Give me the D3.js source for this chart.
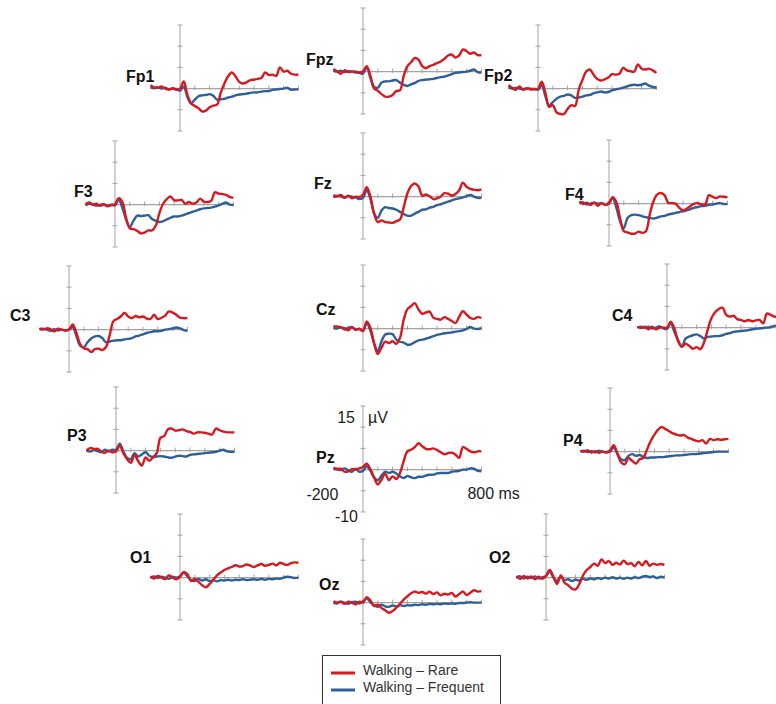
<!DOCTYPE html>
<html>
<head>
<meta charset="utf-8">
<script src="https://cdn.jsdelivr.net/npm/d3@7"></script>
<style>
  html, body { margin: 0; padding: 0; background: #fff; }
  svg { display: block; }
</style>
</head>
<body>
<svg id="chart" width="776" height="704"></svg>
<script>
// Sample times (ms) shared by every waveform
const times = [-200,-175,-150,-125,-100,-75,-50,-25,0,25,50,75,100,125,150,175,200,225,250,275,300,
  325,350,375,400,425,450,475,500,525,550,575,600,625,650,675,700,725,750,775,800];

const yTicks = [-10, -5, 0, 5, 10, 15];
const xTicks = [100, 200, 300, 400, 500, 600, 700, 800];

const electrodes = ["Fp1","Fpz","Fp2","F3","Fz","F4","C3","Cz","C4","P3","Pz","P4","O1","Oz","O2"];
const conditions = ["Walking – Rare", "Walking – Frequent"];

// Grand-average amplitudes (µV), Walking – Rare
const rareFp1 = [0.8,0.3,0.2,0.5,0,-0.2,0.1,-0.3,0,1.7,-1.5,-3.5,-4.1,-4.6,-5.4,-5.2,-4.4,-4.0,-3.8,-1.0,1.2,2.9,3.8,2.9,1.6,1.2,1.5,2.0,2.1,2.3,2.5,3.8,3.2,3.3,3.0,5.0,4.0,4.2,3.5,3.3,3.3];
const rareFpz = [0.6,0,-0.5,0.3,-0.1,0,0,-0.2,0,1.3,-1.0,-4.0,-4.5,-5.3,-5.9,-5.9,-5.5,-4.6,-4.4,-1.0,1.3,2.2,3.2,2.8,1.3,0.8,1.3,1.6,2.0,2.4,3.0,3.8,4.0,3.3,3.8,5.2,4.8,4.2,4.5,3.9,3.9];
const rareFp2 = [0.8,0.2,-0.3,0.5,-0.3,0,0,-0.2,0,1.6,-1.0,-4.3,-3.9,-5.6,-6.0,-6.0,-4.8,-3.9,-4.1,-0.3,2.0,4.0,4.5,3.3,2.3,1.9,2.2,2.6,3.4,3.3,3.5,4.9,4.3,4.1,4.0,5.7,4.7,4.5,4.7,4.3,3.7];
const rareF3 = [0,0.5,0,0.2,-0.3,0,-0.4,-0.1,0.1,1.5,0.6,-3.2,-5.6,-5.8,-6.2,-6.8,-6.6,-6.1,-6.1,-5.0,-2.0,0.2,1.3,1.9,1.0,1.0,1.1,0.2,0.6,0.2,0.5,1.4,0.7,0.6,0.9,2.9,2.6,2.5,2.3,1.8,1.6];
const rareFz = [0.4,0,0.4,-0.3,0.2,-0.4,0,-0.1,0.4,2.2,0,-4.0,-6.0,-5.6,-6.0,-6.1,-6.2,-5.8,-5.4,-2.5,0.8,2.5,3.1,2.4,0.2,0.5,0.1,-0.6,-0.4,0,0.8,0.7,0.2,0.6,1.5,3.3,2.3,1.8,1.6,1.5,1.7];
const rareF4 = [0.5,-0.1,0.2,-0.3,0.2,-0.5,0.1,-0.3,0.2,1.5,0.3,-3.5,-6.5,-6.8,-7.1,-7.1,-6.6,-6.9,-6.5,-2.6,0.5,2.1,2.5,2.0,0.2,0.1,0,-1.0,-1.6,-1.2,-0.6,0,0.1,-0.2,-0.2,2.0,1.6,1.3,1.7,1.6,1.5];
const rareC3 = [0.3,0,0.3,0.1,-0.4,0.2,0,-0.2,0,1.2,-0.8,-3.4,-4.4,-4.6,-5.3,-4.6,-4.5,-4.8,-4.1,-1.3,2.0,2.5,3.1,3.9,3.1,2.7,3.2,2.9,3.1,2.6,2.5,3.5,2.5,2.8,3.3,4.3,4.0,3.5,2.8,2.7,2.7];
const rareCz = [0.5,0.5,0.3,0.1,-0.4,0.3,-0.2,0,-0.6,1.7,0.2,-3.5,-6.0,-4.5,-3.1,-3.4,-3.0,-3.6,-2.2,2.1,4.6,5.3,6.0,4.5,3.5,3.8,4.0,2.6,2.3,2.1,2.7,2.3,1.8,1.3,2.8,4.1,3.3,2.5,2.3,2.7,2.5];
const rareC4 = [0.2,-0.1,0.2,-0.4,0.2,-0.4,0,0,0,1.4,-0.2,-3.2,-4.5,-3.8,-4.3,-5.0,-4.6,-5.1,-3.5,-0.5,2.2,3.6,4.4,4.7,3.0,2.6,2.8,2.0,1.8,1.5,1.8,1.5,1.7,1.8,1.0,3.3,3.0,2.6,2.5,2.4,2.5];
const rareP3 = [0,0.6,0.4,0.4,-0.2,-0.5,0,-0.4,-0.2,1.2,-0.6,-2.0,-2.9,-1.0,-2.5,-3.5,-1.6,-2.4,-1.6,-0.6,3.0,3.4,5.0,5.2,4.7,4.8,5.0,4.6,4.4,4.0,4.3,4.3,4.2,4.0,3.8,5.2,4.8,4.5,4.3,4.3,4.3];
const rarePz = [0.4,0.2,0.2,-0.5,-0.4,0.1,0,0.3,0.6,1.4,0.1,-1.8,-3.5,-2.4,-1.0,-2.5,-1.6,-2.2,-0.8,2.0,4.3,4.7,5.3,6.2,5.5,4.9,4.8,5.0,4.6,4.1,3.6,3.9,4.0,3.5,2.8,5.3,4.9,4.3,4.1,4.3,4.3];
const rareP4 = [0.2,0,0.3,-0.2,0.1,-0.3,0,-0.2,0.3,1.5,-0.5,-2.5,-3.0,-1.5,-2.2,-2.8,-1.8,-1.5,0.5,2.5,4.0,5.2,5.8,5.3,4.8,4.3,4.0,3.8,3.9,3.3,3.0,2.6,2.4,2.7,1.9,3.0,2.7,2.9,2.8,2.9,3.0];
const rareO1 = [0.2,-0.2,0.4,0,-0.3,0.5,0,-0.4,0.2,1.3,0.8,-0.8,-0.3,-1.0,-1.8,-2.3,-1.5,-0.5,0.5,1.2,1.8,2.2,2.5,2.9,2.6,2.7,3.1,2.8,2.5,2.9,3.2,2.8,3.0,3.3,2.9,3.5,3.2,3.0,3.4,3.6,3.5];
const rareOz = [0.3,0,0.2,-0.3,0.2,0,-0.4,0.2,0,1.3,0.5,-0.8,-0.5,-1.3,-1.8,-2.4,-2.0,-1.2,-0.3,0.7,1.5,2.2,2.6,2.3,2.5,2.1,2.6,2.0,2.4,1.7,2.1,1.9,2.3,1.4,2.0,2.6,1.8,2.3,2.9,2.6,2.7];
const rareO2 = [0.3,-0.3,0.4,-0.2,0.3,-0.4,0.2,-0.3,0.4,1.8,0.2,-1.5,0.5,-1.2,-1.8,-2.6,-2.8,-1.5,0.5,1.8,2.5,3.3,2.8,4.3,3.4,3.9,3.0,3.5,3.1,4.0,3.2,3.4,2.7,3.7,2.9,3.9,2.8,3.3,3.0,3.2,3.0];

// Grand-average amplitudes (µV), Walking – Frequent
const freqFp1 = [0.3,0.1,0.3,0,0.2,-0.2,0,-0.1,-0.5,0.5,-2.0,-3.5,-2.6,-1.8,-1.6,-1.5,-1.3,-1.7,-2.6,-2.5,-2.4,-2.1,-1.9,-1.6,-1.4,-1.3,-1.2,-1.0,-0.9,-0.9,-0.7,-0.6,-0.6,-0.3,-0.2,-0.1,0,0.2,-0.3,-0.2,-0.2];
const freqFpz = [0.2,0,0.2,-0.1,0.1,0,-0.2,-0.3,-0.5,1.0,-1.5,-3.6,-3.8,-2.6,-2.3,-2.3,-2.1,-2.0,-2.6,-3.1,-3.4,-3.0,-2.7,-2.2,-2.0,-1.9,-1.8,-1.7,-1.5,-1.3,-1.2,-0.9,-0.6,-0.3,-0.2,-0.1,0,0.2,0.5,-0.1,-0.2];
const freqFp2 = [0.3,0,0.2,0,-0.1,0.1,-0.2,0,-0.3,0.8,-1.8,-4.0,-3.2,-2.4,-1.9,-1.7,-1.4,-1.6,-2.2,-2.1,-1.9,-1.6,-1.5,-1.1,-0.9,-0.7,-0.9,-0.8,-0.4,-0.2,0,0.2,0.5,0.8,0.9,0.8,0.9,1.2,0.7,0.4,0.2];
const freqF3 = [-0.2,0.2,0,-0.3,0,0.1,-0.2,0,-0.2,1.2,-0.8,-3.5,-5.3,-3.8,-2.6,-2.7,-2.6,-2.5,-3.4,-3.8,-4.1,-3.9,-3.5,-3.1,-2.8,-2.8,-2.6,-2.3,-2.0,-1.7,-1.4,-1.1,-0.9,-0.8,-0.7,-0.5,-0.2,0.2,0.5,0,-0.1];
const freqFz = [-0.2,0.2,0,-0.2,0.1,0,-0.2,-0.6,-0.3,1.5,-0.5,-4.0,-5.0,-3.3,-2.5,-2.7,-2.8,-3.1,-3.6,-4.1,-4.5,-4.5,-4.0,-3.6,-3.1,-3.0,-2.6,-2.4,-2.0,-1.8,-1.5,-1.2,-0.9,-0.6,-0.4,-0.2,0.1,0.4,0,-0.3,-0.3];
const freqF4 = [0,0.3,-0.2,0,0.2,0,0.1,-0.3,0,1.3,-1.0,-4.2,-5.8,-3.4,-2.7,-2.6,-2.7,-3.0,-3.2,-3.4,-3.5,-3.3,-3.0,-2.9,-2.6,-2.4,-2.2,-2.0,-1.8,-1.6,-1.3,-1.0,-0.8,-0.6,-0.5,-0.3,-0.2,0,0.1,-0.1,-0.1];
const freqC3 = [0,0.2,0,-0.3,0.1,-0.2,0,-0.2,0,0.6,-1.5,-3.8,-4.2,-3.0,-2.1,-1.6,-1.5,-2.0,-3.0,-2.8,-2.6,-2.5,-2.5,-2.3,-2.2,-2.0,-1.6,-1.4,-1.1,-0.8,-0.6,-0.4,-0.4,-0.3,0,0.1,0.3,0.5,0.3,-0.1,-0.3];
const freqCz = [0.2,0,0.3,-0.2,0.2,0.4,-0.3,-0.1,-0.5,1.3,-0.5,-3.5,-5.3,-3.0,-1.4,-1.2,-1.3,-2.6,-3.1,-3.3,-3.8,-3.7,-3.2,-2.8,-2.6,-2.4,-2.1,-1.8,-1.5,-1.3,-1.1,-1.0,-0.9,-0.7,-0.6,-0.4,-0.1,0.4,0,-0.1,0.1];
const freqC4 = [0,0.2,-0.1,0.2,-0.2,0,0.3,-0.2,-0.3,1.0,-1.0,-3.0,-4.5,-2.6,-2.1,-1.8,-1.6,-2.0,-2.6,-2.2,-2.1,-2.0,-2.0,-1.8,-1.5,-1.3,-1.0,-0.9,-0.8,-0.7,-0.6,-0.4,-0.3,-0.2,-0.1,0,0.1,0.4,0.5,0.5,0.5];
const freqP3 = [0,-0.2,0.1,-0.1,-0.4,0.2,-0.2,0.2,0.2,1.6,-0.2,-1.7,-2.0,-0.6,-1.4,-0.9,-0.4,-1.2,-1.5,-1.4,-1.3,-1.4,-1.6,-1.7,-1.4,-1.2,-1.3,-1.4,-1.0,-0.9,-0.8,-0.7,-0.6,-0.5,-0.4,-0.3,0,0.2,-0.2,-0.3,-0.3];
const freqPz = [0.1,0,-0.1,0.3,-0.2,-0.5,0.2,-0.5,-0.3,0.8,-0.3,-1.9,-2.5,-1.4,-0.5,-0.8,-0.5,-0.9,-1.6,-2.0,-1.5,-1.8,-2.0,-1.7,-1.7,-1.4,-1.2,-1.2,-0.9,-0.8,-0.8,-0.8,-0.5,-0.4,-0.3,0,0,0.3,0.2,-0.3,-0.4];
const freqP4 = [0,0.2,-0.1,0.1,-0.2,0.2,0,-0.1,0,1.0,-0.5,-1.8,-2.0,-1.0,-0.6,-1.0,-0.8,-1.2,-1.5,-1.4,-1.4,-1.3,-1.3,-1.2,-1.1,-1.0,-0.9,-0.9,-0.8,-0.7,-0.6,-0.6,-0.5,-0.4,-0.3,-0.2,-0.1,0,0,0,0];
const freqO1 = [0,0.3,-0.1,0.2,0,-0.3,0.2,0,0.3,1.2,0.3,-0.6,-0.8,-0.3,-0.7,-0.4,-0.8,-0.6,-0.9,-0.6,-0.7,-0.5,-0.7,-0.5,-0.6,-0.4,-0.6,-0.5,-0.4,-0.5,-0.3,-0.5,-0.3,-0.4,-0.2,-0.3,0,0.2,0.1,-0.1,0];
const freqOz = [0,-0.2,0.2,0,-0.3,0.1,0.2,-0.2,0.3,1.0,0.1,-0.7,-1.0,-0.5,-0.9,-1.0,-0.7,-0.9,-0.6,-0.8,-0.6,-0.7,-0.5,-0.6,-0.4,-0.5,-0.3,-0.4,-0.3,-0.4,-0.2,-0.3,-0.2,-0.3,-0.1,-0.1,0,0.1,0,0,0];
const freqO2 = [0,0.3,-0.2,0.2,-0.1,0.3,-0.2,0.1,0.4,1.5,0,-0.8,0.3,-0.6,-0.4,-0.8,-0.5,-0.7,-0.3,-0.5,-0.2,-0.4,-0.1,-0.3,0,-0.2,0.1,-0.2,0,-0.3,0,-0.2,0.1,-0.1,0.2,0.4,0.1,0.3,-0.1,0.2,0];

const rareSeries = [rareFp1,rareFpz,rareFp2,rareF3,rareFz,rareF4,rareC3,rareCz,rareC4,rareP3,rarePz,rareP4,rareO1,rareOz,rareO2];
const freqSeries = [freqFp1,freqFpz,freqFp2,freqF3,freqFz,freqF4,freqC3,freqCz,freqC4,freqP3,freqPz,freqP4,freqO1,freqOz,freqO2];

// Scalp layout: y-axis position, top of the µV range, and label anchor for each electrode
const layout = {
  Fp1: { ax: 180, top: 25,  lx: 126, ly: 82 },
  Fpz: { ax: 363, top: 8,   lx: 306, ly: 65 },
  Fp2: { ax: 538, top: 25,  lx: 484, ly: 81 },
  F3:  { ax: 115, top: 141, lx: 74,  ly: 197 },
  Fz:  { ax: 363, top: 133, lx: 314, ly: 189 },
  F4:  { ax: 609, top: 140, lx: 565, ly: 200 },
  C3:  { ax: 69,  top: 266, lx: 10,  ly: 321 },
  Cz:  { ax: 363, top: 265, lx: 316, ly: 315 },
  C4:  { ax: 667, top: 264, lx: 612, ly: 321 },
  P3:  { ax: 116, top: 387, lx: 67,  ly: 441 },
  Pz:  { ax: 363, top: 406, lx: 316, ly: 463 },
  P4:  { ax: 610, top: 388, lx: 563, ly: 446 },
  O1:  { ax: 180, top: 514, lx: 130, ly: 563 },
  Oz:  { ax: 363, top: 539, lx: 319, ly: 590 },
  O2:  { ax: 546, top: 514, lx: 489, ly: 563 }
};

const colors = ["#d7191f", "#2f5f98"];
const axisColor = "#a3a3a3";
const PX_PER_MS = 0.148;
const PANEL_H = 106;

const svg = d3.select("#chart");

electrodes.forEach((name, i) => {
  const L = layout[name];
  const x = d3.scaleLinear().domain([-200, 800]).range([L.ax - 200 * PX_PER_MS, L.ax + 800 * PX_PER_MS]);
  const y = d3.scaleLinear().domain([-10, 15]).range([L.top + PANEL_H, L.top]);
  const g = svg.append("g").attr("class", "panel");

  // y axis with µV ticks
  g.append("line")
    .attr("x1", x(0)).attr("x2", x(0))
    .attr("y1", y(-10)).attr("y2", y(15))
    .attr("stroke", axisColor).attr("stroke-width", 1);
  g.selectAll(".yt").data(yTicks).enter().append("line")
    .attr("x1", x(0) - 2.5).attr("x2", x(0) + 2.5)
    .attr("y1", d => y(d)).attr("y2", d => y(d))
    .attr("stroke", axisColor).attr("stroke-width", 1);

  // time axis from stimulus onset
  g.append("line")
    .attr("x1", x(0)).attr("x2", x(800))
    .attr("y1", y(0)).attr("y2", y(0))
    .attr("stroke", axisColor).attr("stroke-width", 1.2);
  g.selectAll(".xt").data(xTicks).enter().append("line")
    .attr("x1", d => x(d)).attr("x2", d => x(d))
    .attr("y1", y(0) - 3).attr("y2", y(0) + 1.5)
    .attr("stroke", axisColor).attr("stroke-width", 1);

  const line = d3.line()
    .x((d, k) => x(times[k]))
    .y(d => y(d))
    .curve(d3.curveCatmullRom.alpha(0.5));

  g.append("path").datum(freqSeries[i])
    .attr("d", line).attr("fill", "none")
    .attr("stroke", colors[1]).attr("stroke-width", 2.4)
    .attr("stroke-linejoin", "round");
  g.append("path").datum(rareSeries[i])
    .attr("d", line).attr("fill", "none")
    .attr("stroke", colors[0]).attr("stroke-width", 2.4)
    .attr("stroke-linejoin", "round");

  g.append("text")
    .attr("x", L.lx).attr("y", L.ly)
    .attr("font-family", "Liberation Sans, Arial, sans-serif")
    .attr("font-weight", "bold").attr("font-size", 16)
    .attr("fill", "#111")
    .text(name);

  // scale annotation on the Pz panel
  if (name === "Pz") {
    const t = g.append("g")
      .attr("font-family", "Liberation Sans, Arial, sans-serif")
      .attr("font-size", 16).attr("fill", "#222");
    t.append("text").attr("x", x(0) - 8).attr("y", y(15) + 17).attr("text-anchor", "end").text("15");
    t.append("text").attr("x", x(0) + 5).attr("y", y(15) + 17).text("µV");
    t.append("text").attr("x", x(-200) - 27).attr("y", y(0) + 30).text("-200");
    t.append("text").attr("x", x(800) - 14).attr("y", y(0) + 29).text("800 ms");
    t.append("text").attr("x", x(0) - 5).attr("y", y(-10) + 10).attr("text-anchor", "end").text("-10");
  }
});

// legend
const legend = svg.append("g").attr("transform", "translate(322,655)");
legend.append("rect")
  .attr("x", 0.5).attr("y", 0.5).attr("width", 178).attr("height", 60)
  .attr("fill", "#fff").attr("stroke", "#333").attr("stroke-width", 1);
conditions.forEach((c, k) => {
  legend.append("line")
    .attr("x1", 9).attr("x2", 33)
    .attr("y1", 18 + k * 17).attr("y2", 18 + k * 17)
    .attr("stroke", colors[k]).attr("stroke-width", 3);
  legend.append("text")
    .attr("x", 41).attr("y", 20 + k * 17)
    .attr("font-family", "Liberation Sans, Arial, sans-serif")
    .attr("font-size", 14).attr("fill", "#333")
    .text(c);
});
</script>
</body>
</html>
